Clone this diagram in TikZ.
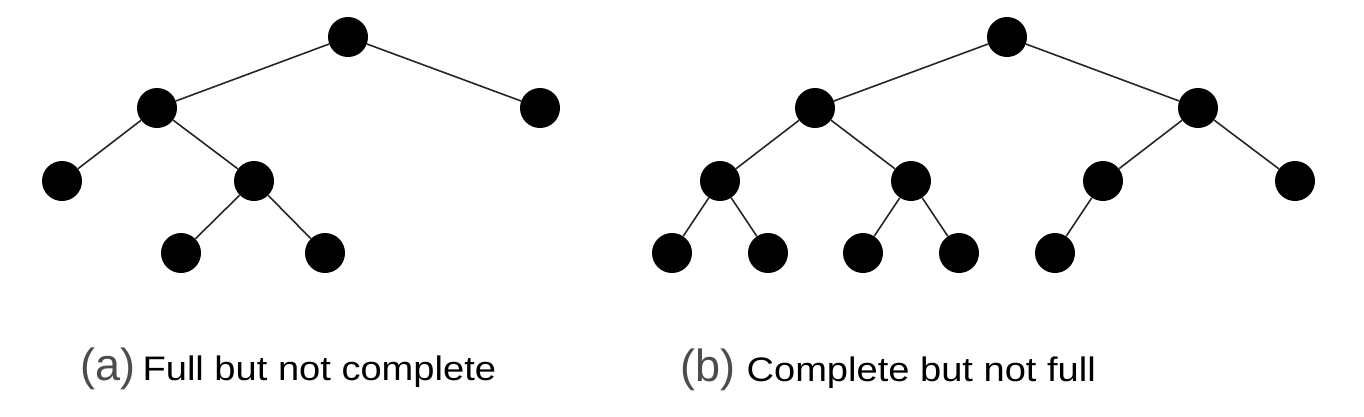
\documentclass[tikz,border=0pt]{standalone}
\usepackage{fontspec}
\setmainfont{Liberation Sans}
\newfontfamily\widesans[FakeStretch=1.12]{Liberation Sans}
\usetikzlibrary{positioning}
\tikzset{
  vtx/.style={circle,fill=black,minimum size=40pt,inner sep=0pt},
  edge/.style={line width=1.6pt,black!85},
  caption/.style={inner sep=0pt,font=\widesans\fontsize{34}{40}\selectfont},
  tag/.style={inner sep=0pt,text=black!70,font=\fontsize{45}{52}\selectfont}
}

\begin{document}
\begin{tikzpicture}[x=1pt,y=-1pt]
  \useasboundingbox (0,0) rectangle (1364,416);
  % tree (a)
  \foreach \n/\x/\y in {ar/348/37, al/157/108, arr/540/108, all/62/181, alr/254/181,
                        alrl/181/253, alrr/325/253}{
    \node[vtx] (\n) at (\x,\y) {};
  }
  \foreach \u/\v in {ar/al, ar/arr, al/all, al/alr, alr/alrl, alr/alrr}
    \draw[edge] (\u) -- (\v);
  % tree (b)
  \foreach \n/\x/\y in {br/1007/37, bl/815/108, brr/1198/108, bll/720/181, blr/911/181,
                        brl/1103/181, brrr/1295/181, blll/672/253, bllr/768/253,
                        blrl/863/253, blrr/959/253, brll/1055/253}{
    \node[vtx] (\n) at (\x,\y) {};
  }
  \foreach \u/\v in {br/bl, br/brr, bl/bll, bl/blr, brr/brl, brr/brrr,
                     bll/blll, bll/bllr, blr/blrl, blr/blrr, brl/brll}
    \draw[edge] (\u) -- (\v);
  % captions
  \node[tag,anchor=base west] (taga) at (80,380) {(a)};
  \node[caption,right=7pt of taga.base east,anchor=base west] (capa) {Full but not complete};
  \node[tag,anchor=base west] (tagb) at (680,381) {(b)};
  \node[caption,right=11pt of tagb.base east,anchor=base west] (capb) {Complete but not full};
\end{tikzpicture}
\end{document}
